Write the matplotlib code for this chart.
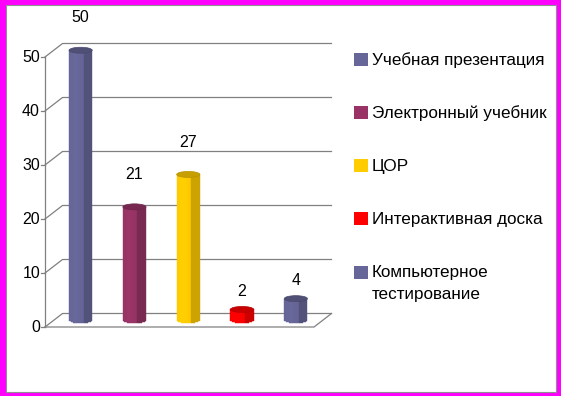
import matplotlib
matplotlib.use('Agg')
import matplotlib.pyplot as plt
import numpy as np
from matplotlib.lines import Line2D
from matplotlib.patches import Rectangle, Ellipse, Polygon
from matplotlib.transforms import IdentityTransform
from matplotlib.colors import to_rgb

plt.rcParams['font.family'] = ['Liberation Sans', 'DejaVu Sans']

categories = ['Учебная презентация', 'Электронный учебник', 'ЦОР',
              'Интерактивная доска', 'Компьютерное\nтестирование']
values = [50, 21, 27, 2, 4]
colors = ['#666699', '#993366', '#ffcc00', '#ff0000', '#666699']
yticks = [0, 10, 20, 30, 40, 50]

W, H = 561, 396
DEPTH = (17.5, 13.5)   # px shift from the front plane to the back wall
BAR_W = 0.43           # cylinder width, category units
ELL_H = 6              # px height of the cylinder caps
GRID = '#808080'

fig = plt.figure(figsize=(W / 100, H / 100), dpi=100, facecolor='#ff00ff')
px = IdentityTransform()
fig.add_artist(Rectangle((5.5, 4.5), 550, 386.5, transform=px,
                         facecolor='white', edgecolor='#909090', lw=0.8))

ax = fig.add_axes([45 / W, 69 / H, 269 / W, 270 / H])
ax.set_xlim(0, len(values))
ax.set_ylim(0, 50)
ax.axis('off')


def proj(x, y, z):
    X, Y = ax.transData.transform((x, y))
    return X + z * DEPTH[0], Y + z * DEPTH[1]


def line(pts, **kw):
    xs, ys = zip(*pts)
    fig.add_artist(Line2D(xs, ys, transform=px, color=GRID, lw=0.9, **kw))


# walls / grid
n = len(values)
for t in yticks:
    line([proj(0, t, 0), proj(0, t, 1), proj(n, t, 1)])
    x0, y0 = proj(0, t, 0)
    line([(x0 - 4, y0), (x0, y0)])
    fig.text(x0 - 5, y0, str(t), transform=px, ha='right', va='center',
             fontsize=11.5)
line([proj(0, 0, 0), proj(0, 50, 0)])
line([proj(0, 0, 0), proj(n, 0, 0), proj(n, 0, 1)])


def shade(c, f):
    return tuple(np.clip(np.array(to_rgb(c)) * f, 0, 1))


# cylinders
strips = 16
for i, (v, c) in enumerate(zip(values, colors)):
    cx = i + 0.5
    xl, yb = proj(cx - BAR_W / 2, 0, 0.5)
    xr, _ = proj(cx + BAR_W / 2, 0, 0.5)
    _, yt = proj(cx, v, 0.5)
    edges = np.linspace(xl, xr, strips + 1)
    for k in range(strips):
        a, b = edges[k], edges[k + 1]
        um = ((a + b) / 2 - xl) / (xr - xl) * 2 - 1
        f = 1.02 - 0.06 * abs(um + 0.4) if um < 0.25 else 0.8
        drop = ELL_H / 2 * np.sqrt(max(0.0, 1 - um ** 2))
        fig.add_artist(Polygon([(a, yb - drop), (b, yb - drop), (b, yt), (a, yt)],
                               closed=True, transform=px, lw=0.3,
                               facecolor=shade(c, f), edgecolor=shade(c, f),
                               zorder=3))
    fig.add_artist(Ellipse(((xl + xr) / 2, yt), xr - xl, ELL_H, transform=px,
                           facecolor=shade(c, 0.78), edgecolor=shade(c, 0.72),
                           lw=0.5, zorder=4))
    gap = 6.0 if v >= 10 else 3.3
    lx, ly = proj(cx, v + gap, 0.5)
    fig.text(lx, ly, str(v), transform=px, ha='center', va='center',
             fontsize=11.5, zorder=5)

# legend
for i, (lab, c) in enumerate(zip(categories, colors)):
    yc = H - (59 + i * 53.3)
    fig.add_artist(Rectangle((354, yc - 6.5), 14, 13, transform=px,
                             facecolor=c, edgecolor='none'))
    fig.text(372, yc + 7, lab, transform=px, ha='left', va='top',
             fontsize=12.3, linespacing=1.55)

fig.savefig('out.png', dpi=100, facecolor=fig.get_facecolor())
